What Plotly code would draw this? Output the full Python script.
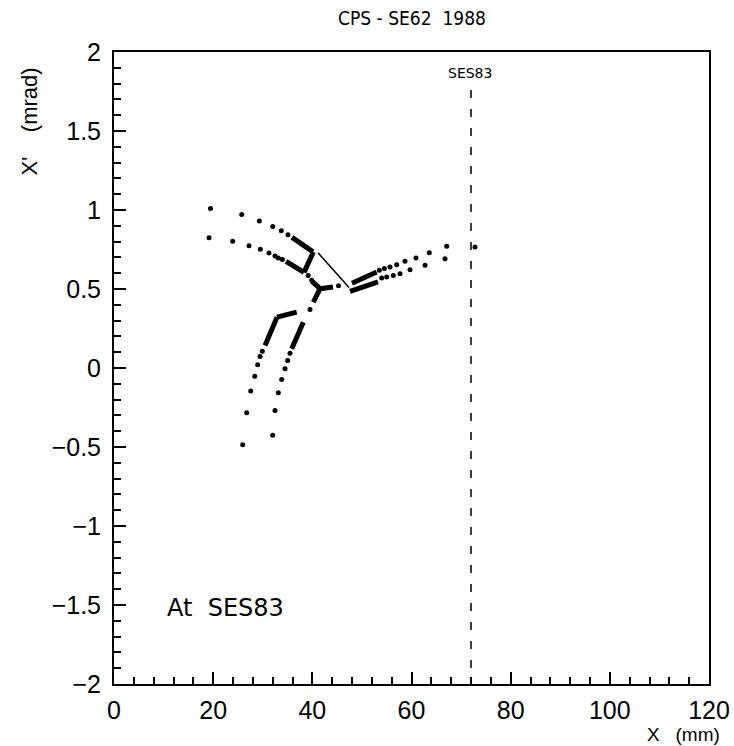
import plotly.graph_objects as go

# ---- particle turns in phase space (x in mm, x' in mrad) ----
# upper-left arm, outer track
arm_ul_outer_x = [19.46, 25.76, 29.31, 32.01, 33.74, 35.09]
arm_ul_outer_y = [1.009, 0.971, 0.930, 0.895, 0.868, 0.843]
# upper-left arm, inner track
arm_ul_inner_x = [19.16, 23.94, 27.23, 29.51, 31.26, 32.47, 33.14, 33.95]
arm_ul_inner_y = [0.824, 0.803, 0.773, 0.751, 0.728, 0.709, 0.696, 0.686]
# turns around the centre
centre_x = [39.17, 39.87, 45.28, 39.53]
centre_y = [0.586, 0.555, 0.520, 0.371]
# right arm, upper track
arm_r_upper_x = [53.51, 54.52, 55.67, 57.02, 58.69, 60.91, 63.59, 67.10, 72.81]
arm_r_upper_y = [0.618, 0.629, 0.639, 0.654, 0.675, 0.696, 0.730, 0.770, 0.766]
# right arm, lower track
arm_r_lower_x = [53.99, 55.00, 56.33, 57.68, 59.70, 62.73, 66.76]
arm_r_lower_y = [0.569, 0.576, 0.586, 0.597, 0.622, 0.650, 0.692]
# lower arm, left track
arm_lo_left_x = [29.91, 29.45, 28.98, 28.38, 27.57, 26.76, 25.96]
arm_lo_left_y = [0.106, 0.073, 0.020, -0.052, -0.145, -0.284, -0.485]
# lower arm, right track
arm_lo_right_x = [35.50, 35.03, 34.49, 33.82, 33.14, 32.47, 32.01]
arm_lo_right_y = [0.094, 0.048, -0.005, -0.073, -0.157, -0.269, -0.425]

# dense stretches where successive turns merge (start / end of each stretch)
dense_x0 = [35.90, 34.69, 40.20, 39.90, 41.55, 41.55, 48.00, 47.60, 32.88, 32.88, 38.18]
dense_y0 = [0.827, 0.675, 0.734, 0.550, 0.502, 0.502, 0.536, 0.485, 0.322, 0.322, 0.290]
dense_x1 = [40.14, 38.32, 38.32, 41.55, 44.17, 40.21, 52.97, 53.25, 36.85, 30.46, 35.84]
dense_y1 = [0.735, 0.605, 0.605, 0.502, 0.513, 0.417, 0.607, 0.545, 0.354, 0.143, 0.122]

# fine link between the two upper fixed points
link_x = [41.15, 47.40]
link_y = [0.729, 0.510]

# septum position
septum_x = 72.0
septum_y = [1.76, -1.98]

fig = go.Figure()

dot_tracks = [
    (arm_ul_outer_x, arm_ul_outer_y),
    (arm_ul_inner_x, arm_ul_inner_y),
    (centre_x, centre_y),
    (arm_r_upper_x, arm_r_upper_y),
    (arm_r_lower_x, arm_r_lower_y),
    (arm_lo_left_x, arm_lo_left_y),
    (arm_lo_right_x, arm_lo_right_y),
]
for xs, ys in dot_tracks:
    fig.add_trace(go.Scatter(x=xs, y=ys, mode="markers",
                             marker=dict(color="black", size=5),
                             showlegend=False, hoverinfo="skip"))

sx, sy = [], []
for x0, y0, x1, y1 in zip(dense_x0, dense_y0, dense_x1, dense_y1):
    sx += [x0, x1, None]
    sy += [y0, y1, None]
fig.add_trace(go.Scatter(x=sx, y=sy, mode="lines",
                         line=dict(color="black", width=5),
                         showlegend=False, hoverinfo="skip"))

fig.add_trace(go.Scatter(x=link_x, y=link_y, mode="lines",
                         line=dict(color="black", width=1.5),
                         showlegend=False, hoverinfo="skip"))

fig.add_trace(go.Scatter(x=[septum_x, septum_x], y=septum_y, mode="lines",
                         line=dict(color="black", width=1.5, dash="8px,11px"),
                         showlegend=False, hoverinfo="skip"))

axis_font = dict(family="Liberation Sans, Arial, sans-serif", size=25, color="black")
narrow_font = "DejaVu Sans Condensed, Liberation Sans Narrow, DejaVu Sans, sans-serif"
label_font = "DejaVu Sans, sans-serif"

fig.update_layout(
    width=734, height=746,
    margin=dict(l=114, r=25, t=52, b=62, autoexpand=False),
    paper_bgcolor="white", plot_bgcolor="white",
    font=dict(family="Liberation Sans, Arial, sans-serif", color="black"),
    xaxis=dict(range=[0, 120], dtick=20, tick0=0, automargin=False,
               showgrid=False, zeroline=False,
               showline=True, linecolor="black", linewidth=2, mirror=True,
               ticks="inside", ticklen=12, tickwidth=1.5, tickcolor="black",
               minor=dict(dtick=4, ticks="inside", ticklen=7, tickwidth=1.5,
                          tickcolor="black", showgrid=False),
               tickfont=axis_font, ticklabelstandoff=3),
    yaxis=dict(range=[-2, 2], dtick=0.5, tick0=0, automargin=False,
               showgrid=False, zeroline=False,
               showline=True, linecolor="black", linewidth=2, mirror=True,
               ticks="inside", ticklen=12, tickwidth=1.5, tickcolor="black",
               minor=dict(dtick=0.1, ticks="inside", ticklen=7, tickwidth=1.5,
                          tickcolor="black", showgrid=False),
               tickfont=axis_font, ticklabelstandoff=6),
    annotations=[
        dict(text="CPS - SE62  1988", xref="paper", yref="paper",
             x=0.5, y=1.0, yshift=34, yanchor="middle", showarrow=False,
             font=dict(size=19, family=narrow_font)),
        dict(text="X'    (mrad)", xref="paper", yref="paper",
             x=0, xshift=-84, y=0.89, textangle=-90, showarrow=False,
             xanchor="center", yanchor="middle",
             font=dict(size=22, family="Liberation Sans, Arial, sans-serif")),
        dict(text="X   (mm)", xref="paper", yref="paper",
             x=1.0, xshift=13, y=0, yshift=-50, showarrow=False,
             xanchor="right", yanchor="middle",
             font=dict(size=19, family="Liberation Sans, Arial, sans-serif")),
        dict(text="SES83", xref="x", yref="y", x=71.7, y=1.87, showarrow=False,
             font=dict(size=14, family=label_font)),
        dict(text="At  SES83", xref="x", yref="y", x=10.3, y=-1.516,
             xanchor="left", showarrow=False,
             font=dict(size=24, family=label_font)),
    ],
)

fig.write_html("out.html")
